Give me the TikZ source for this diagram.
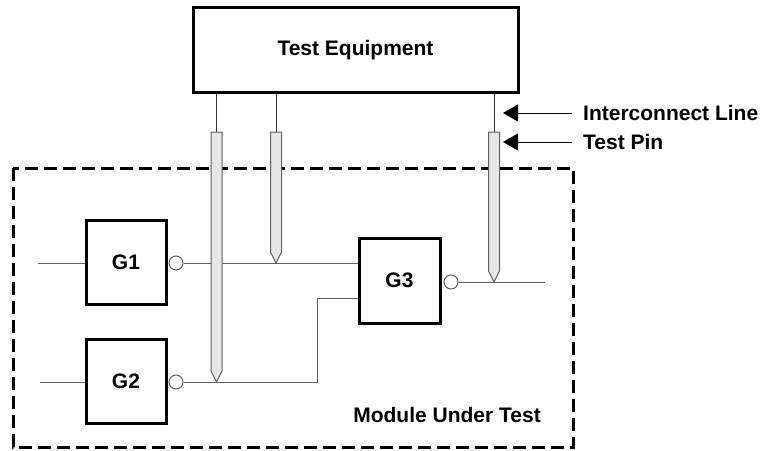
\documentclass[tikz,border=0pt]{standalone}
\usepackage{fontspec}
\setmainfont{Liberation Sans}
\usetikzlibrary{arrows.meta,calc}
\definecolor{pinfill}{RGB}{230,231,233}
\definecolor{wiregray}{RGB}{95,95,95}
\begin{document}
\begin{tikzpicture}[x=1pt,y=-1pt,
  lbl/.style={font=\fontsize{21}{25}\selectfont\bfseries},
  gatebox/.style={draw=black,line width=3pt,minimum width=80pt,minimum height=84pt,inner sep=0pt,lbl},
  bubble/.style={circle,draw=wiregray,line width=1pt,fill=white,minimum size=14pt,inner sep=0pt},
  wire/.style={draw=wiregray,line width=1pt},
  pinbody/.style={draw=wiregray,line width=1pt,fill=pinfill,line join=miter},
  modbox/.style={draw=black,line width=3pt,dash pattern=on 13pt off 6pt},
  callout/.style={draw=black,line width=1pt,-{Triangle[length=15pt,width=17pt]}}]
\useasboundingbox (0,0) rectangle (762,450);
% test equipment
\node[draw=black,line width=3pt,minimum width=325pt,minimum height=85pt,inner sep=0pt,lbl] (te) at (355.5,50) {Test Equipment};
% module boundary
\draw[modbox] (13,168) rectangle (573,447);
\node[lbl] (mut) at (447,415) {Module Under Test};
% gates
\node[gatebox] (g1) at (126,262) {G1};
\node[gatebox] (g2) at (126,381) {G2};
\node[gatebox,minimum width=81pt,minimum height=85pt] (g3) at (399.5,280.5) {G3};
% coordinates
\coordinate (in1) at (38,263);
\coordinate (in2) at (40,382);
\coordinate (j1) at (317,382);
\coordinate (j2) at (317,298);
\coordinate (out3) at (545,282);
\coordinate (p1top) at (216.5,132);
\coordinate (p1tip) at (216.5,382);
\coordinate (p2top) at (276,132);
\coordinate (p2tip) at (276,263);
\coordinate (p3top) at (494,132);
\coordinate (p3tip) at (494,282);
% bubbles
\node[bubble] (b1) at (176,263) {};
\node[bubble] (b2) at (176,382) {};
\node[bubble] (b3) at (451,282) {};
% wires
\draw[wire] (in1) -- (in1 -| g1.west);
\draw[wire] (in2) -- (in2 -| g2.west);
\draw[wire] (b1.east) -- (b1.east -| g3.west);
\draw[wire] (b2.east) -- (j1) -- (j2) -- (j2 -| g3.west);
\draw[wire] (b3.east) -- (out3);
% interconnect lines
\draw[wire,draw=black!80] (te.south -| p1top) -- (p1top);
\draw[wire,draw=black!80] (te.south -| p2top) -- (p2top);
\draw[wire,draw=black!80] (te.south -| p3top) -- (p3top);
% pins
\foreach \p in {p1,p2,p3}{
  \draw[pinbody] ($(\p top)+(-5.5,0)$) -- ($(\p top)+(5.5,0)$) -- ($(\p tip)+(5.5,-11)$) -- (\p tip) -- ($(\p tip)+(-5.5,-11)$) -- cycle;
}
% callouts
\node[lbl,anchor=west,inner sep=0pt] (il) at (583,113) {Interconnect Line};
\node[lbl,anchor=west,inner sep=0pt] (tp) at (583,142) {Test Pin};
\coordinate (iltip) at (503,113);
\coordinate (tptip) at (503,142);
\draw[callout] ($(il.west)+(-11,0)$) -- (iltip);
\draw[callout] ($(tp.west)+(-11,0)$) -- (tptip);
\end{tikzpicture}
\end{document}
